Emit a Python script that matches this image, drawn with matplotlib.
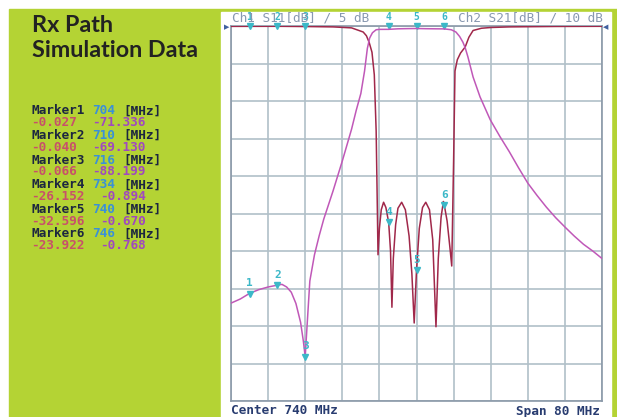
import numpy as np
import matplotlib.pyplot as plt
from matplotlib.patches import Rectangle

W, H = 617, 417

# S21 trace (dB, 10 dB/div)
s21_freq = [700, 702, 704, 706, 708, 710, 711, 712, 713, 714, 715, 715.6, 716,
            716.4, 717, 718, 719, 720, 722, 724, 726, 727, 728, 728.8, 729.4,
            729.9, 730.5, 731.3, 732, 734, 736, 738, 740, 742, 744, 746, 747.5,
            748.5, 749.3, 750, 750.5, 751.1, 752.2, 753.7, 755.9, 758, 760, 762,
            764, 766, 768, 770, 772, 774, 776, 778, 780]
s21_db = [-73.9, -72.8, -71.3, -70.3, -69.6, -69.1, -68.9, -69.6, -71.0, -74.0,
          -79.0, -84.0, -88.2, -80.0, -68.0, -61.0, -56.0, -51.5, -44.0, -36.0,
          -27.5, -22.5, -18.0, -12.0, -6.0, -3.2, -1.8, -1.0, -0.9, -0.89, -0.75,
          -0.7, -0.67, -0.72, -0.75, -0.77, -1.0, -1.6, -2.8, -4.3, -5.8, -8.3,
          -13.6, -18.9, -25.0, -29.5, -33.5, -37.8, -41.9, -45.2, -48.3, -51.1,
          -53.6, -56.0, -58.2, -60.0, -62.0]

# S11 trace (dB, 5 dB/div)
s11_freq = [700, 710, 716, 722, 726, 728.5, 729.2, 729.8, 730.4, 730.9, 731.3,
            731.5, 731.7, 732.0, 732.4, 732.9, 733.4, 734.0, 734.4, 734.7, 735.0,
            735.5, 736.0, 736.8, 737.6, 738.4, 739.0, 739.5, 740.0, 740.6, 741.3,
            742.0, 742.8, 743.5, 744.2, 744.7, 745.3, 745.8, 746.0, 746.6, 747.2,
            747.6, 748.0, 748.3, 748.8, 749.5, 750.5, 751.3, 752.2, 754, 756, 760,
            770, 780]
s11_db = [-0.05, -0.04, -0.07, -0.12, -0.25, -0.8, -1.3, -2.2, -3.5, -6.5, -14.0,
          -22.0, -30.5, -27.0, -24.5, -23.5, -24.2, -26.2, -30.0, -37.5, -31.0,
          -26.5, -24.3, -23.5, -24.5, -28.0, -33.0, -39.6, -32.6, -27.0, -24.2,
          -23.5, -24.5, -28.5, -40.1, -31.0, -25.5, -23.4, -23.9, -26.0, -29.5,
          -32.0, -18.0, -6.0, -4.5, -3.6, -2.8, -1.5, -0.6, -0.3, -0.2, -0.12,
          -0.06, -0.04]

marker_freq = [704, 710, 716, 734, 740, 746]
marker_s11 = ["-0.027", "-0.040", "-0.066", "-26.152", "-32.596", "-23.922"]
marker_s21 = ["-71.336", "-69.130", "-88.199", "-0.894", "-0.670", "-0.768"]

GREEN = "#b4d334"
MONO = "DejaVu Sans Mono"


def fx(x):
    return x / W


def fy(y):
    return 1 - y / H


fig = plt.figure(figsize=(W / 100, H / 100), dpi=100)
fig.patch.set_facecolor("white")

# green backdrop and white screen panel
fig.patches.append(Rectangle((fx(9), 0), 1 - fx(9), fy(9), transform=fig.transFigure,
                             color=GREEN, zorder=-2))
fig.patches.append(Rectangle((fx(221), 0), fx(611) - fx(221), fy(12), transform=fig.transFigure,
                             color="white", zorder=-1))

# title
fig.text(fx(32), fy(38), "Rx Path\nSimulation Data", family="Lato", weight="bold",
         fontsize=16.8, color="#222222", va="center", ha="left", linespacing=1.2)

# marker table
cw = 7.7  # px per mono char
fs = 9.2
for i, f in enumerate(marker_freq):
    y1 = 111 + i * 24.6
    y2 = y1 + 11.6
    fig.text(fx(31), fy(y1), "Marker%d" % (i + 1), family=MONO, weight="bold",
             fontsize=fs, color="#1c2640", va="center")
    fig.text(fx(31 + 8 * cw), fy(y1), "%d" % f, family=MONO, weight="bold",
             fontsize=fs, color="#3a90d8", va="center")
    fig.text(fx(31 + 12 * cw), fy(y1), "[MHz]", family=MONO, weight="bold",
             fontsize=fs, color="#1c2640", va="center")
    fig.text(fx(31), fy(y2), marker_s11[i], family=MONO, weight="bold",
             fontsize=fs, color="#c8506a", va="center")
    fig.text(fx(31 + (len(marker_s11[i]) + 2) * cw), fy(y2), marker_s21[i], family=MONO,
             weight="bold", fontsize=fs, color="#a048c0", va="center")

# analyser screen
ax = fig.add_axes([fx(231), fy(401), fx(602) - fx(231), fy(26) - fy(401)])
ax.set_xlim(700, 780)
ax.set_ylim(-50, 0)
ax.set_xticks(np.arange(700, 781, 8))
ax.set_yticks(np.arange(-50, 1, 5))
ax.grid(True, color="#b0c0c8", lw=1.2)
ax.tick_params(length=0, labelbottom=False, labelleft=False)
for s in ax.spines.values():
    s.set_color("#8a98a8")
    s.set_linewidth(1.2)
ax.set_axisbelow(True)

ax2 = ax.twinx()
ax2.set_ylim(-100, 0)
ax2.set_yticks([])
for s in ax2.spines.values():
    s.set_visible(False)

ax.plot(s11_freq, s11_db, color="#a0284a", lw=1.1, zorder=3)
ax2.plot(s21_freq, s21_db, color="#c058b8", lw=1.1, zorder=3)

CYAN = "#3cb8c8"
for i, f in enumerate(marker_freq):
    if i < 3:
        a, v = ax2, float(marker_s21[i])
    else:
        a, v = ax, float(marker_s11[i])
    a.plot([f], [v], marker="v", ms=4, color=CYAN, zorder=4)
    a.annotate(str(i + 1), (f, v), xytext=(0, 4), textcoords="offset points",
               ha="center", va="bottom", color=CYAN, fontsize=8, family=MONO,
               weight="bold", zorder=5)
    # top strip marker ticks
    ax.plot([f], [0], marker="v", ms=4, color=CYAN, clip_on=False, zorder=6)
    ax.annotate(str(i + 1), (f, 0), xytext=(0, 3), textcoords="offset points",
                ha="center", va="bottom", color=CYAN, fontsize=7, family=MONO,
                weight="bold", annotation_clip=False, zorder=6)

# header / footer text
fig.text(fx(232), fy(18), "Ch1 S11[dB] / 5 dB", family=MONO, fontsize=fs,
         color="#8898b0", va="center", ha="left")
fig.text(fx(603), fy(18), "Ch2 S21[dB] / 10 dB", family=MONO, fontsize=fs,
         color="#8898b0", va="center", ha="right")
fig.text(fx(231), fy(411), "Center 740 MHz", family=MONO, weight="bold", fontsize=fs,
         color="#283c70", va="center", ha="left")
fig.text(fx(600), fy(411), "Span 80 MHz", family=MONO, weight="bold", fontsize=fs,
         color="#283c70", va="center", ha="right")

# reference position indicators
fig.text(fx(227), fy(27), "\u25b6", fontsize=5, color="#4060a0", va="center", ha="center")
fig.text(fx(606), fy(27), "\u25c0", fontsize=5, color="#4060a0", va="center", ha="center")

fig.savefig("out.png", dpi=100)
